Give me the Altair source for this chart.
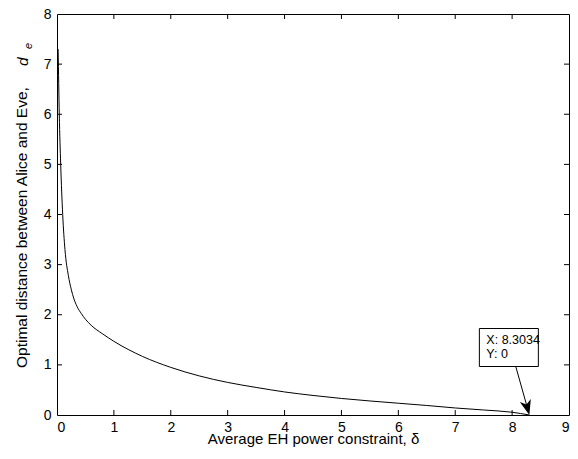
import altair as alt
import pandas as pd

# ---- data ----
delta = [0.02, 0.04, 0.065, 0.1, 0.14, 0.2, 0.25, 0.3, 0.35, 0.43, 0.5, 0.6, 0.8,
         1.0, 1.5, 2.0, 2.5, 3.0, 3.5, 4.0, 4.5, 5.0, 5.5, 6.0, 6.5, 7.0, 7.5,
         8.0, 8.3034]
d_e = [7.3, 6.0, 5.0, 4.0, 3.3, 2.78, 2.51, 2.31, 2.17, 2.02, 1.91, 1.79, 1.62,
       1.47, 1.17, 0.95, 0.78, 0.65, 0.55, 0.46, 0.39, 0.33, 0.28, 0.235, 0.19,
       0.14, 0.1, 0.055, 0.0]
x_ticks = [0, 1, 2, 3, 4, 5, 6, 7, 8, 9]
y_ticks = [0, 1, 2, 3, 4, 5, 6, 7, 8]
marker_x = [8.3034]
marker_y = [0.0]
marker_lines = ["X: 8.3034", "Y: 0"]

W, H = 512, 401
FONT = "Liberation Sans"

curve_df = pd.DataFrame({"delta": delta, "de": d_e})
xt_df = pd.DataFrame({"t": x_ticks[1:-1]})
yt_df = pd.DataFrame({"t": y_ticks[1:-1]})
mk_df = pd.DataFrame({"x": marker_x, "y": marker_y})

xs = alt.Scale(domain=[x_ticks[0], x_ticks[-1]], nice=False, zero=False)
ys = alt.Scale(domain=[y_ticks[0], y_ticks[-1]], nice=False, zero=False)

x_axis = alt.Axis(values=x_ticks, format="d", ticks=False, domain=False, grid=False,
                  labelFont=FONT, labelFontSize=14, labelColor="black",
                  labelPadding=5, title="Average EH power constraint, δ",
                  titleFont=FONT, titleFontSize=15, titleFontWeight="normal",
                  titleColor="black", titleBaseline="alphabetic", titleY=28)
y_axis = alt.Axis(values=y_ticks, format="d", ticks=False, domain=False, grid=False,
                  labelFont=FONT, labelFontSize=14, labelColor="black",
                  labelPadding=6, title=None)

curve = alt.Chart(curve_df).mark_line(color="black", strokeWidth=1,
                                      interpolate="monotone").encode(
    x=alt.X("delta:Q", scale=xs, axis=x_axis),
    y=alt.Y("de:Q", scale=ys, axis=y_axis),
)

# inward ticks on all four sides (MATLAB box style)
xt_bottom = alt.Chart(xt_df).mark_rule(color="black", strokeWidth=1).encode(
    x=alt.X("t:Q", scale=xs), y=alt.value(H), y2=alt.value(H - 5))
xt_top = alt.Chart(xt_df).mark_rule(color="black", strokeWidth=1).encode(
    x=alt.X("t:Q", scale=xs), y=alt.value(0), y2=alt.value(5))
yt_left = alt.Chart(yt_df).mark_rule(color="black", strokeWidth=1).encode(
    y=alt.Y("t:Q", scale=ys), x=alt.value(0), x2=alt.value(5))
yt_right = alt.Chart(yt_df).mark_rule(color="black", strokeWidth=1).encode(
    y=alt.Y("t:Q", scale=ys), x=alt.value(W), x2=alt.value(W - 5))

# data tip annotation
box = alt.Chart(mk_df).mark_rect(fill="white", stroke="black", strokeWidth=1,
                                 xOffset=-50, x2Offset=9,
                                 yOffset=-86.5, y2Offset=-48.5).encode(
    x=alt.X("x:Q", scale=xs), x2="x:Q",
    y=alt.Y("y:Q", scale=ys), y2="y:Q")
txt1 = alt.Chart(mk_df).mark_text(text=marker_lines[0], font=FONT, fontSize=12.5,
                                  align="left", baseline="middle",
                                  dx=-43, dy=-75.5, color="black").encode(
    x=alt.X("x:Q", scale=xs), y=alt.Y("y:Q", scale=ys))
txt2 = alt.Chart(mk_df).mark_text(text=marker_lines[1], font=FONT, fontSize=12.5,
                                  align="left", baseline="middle",
                                  dx=-43, dy=-61.5, color="black").encode(
    x=alt.X("x:Q", scale=xs), y=alt.Y("y:Q", scale=ys))
arrow_line = alt.Chart(mk_df).mark_rule(color="black", strokeWidth=1,
                                        xOffset=-13.6, yOffset=-48.5,
                                        x2Offset=-2.5, y2Offset=-9).encode(
    x=alt.X("x:Q", scale=xs), x2="x:Q",
    y=alt.Y("y:Q", scale=ys), y2="y:Q")
arrow_head = alt.Chart(mk_df).mark_point(
    shape="M0,0L-0.38,-1L0,-0.72L0.38,-1Z", size=900, angle=344.3,
    filled=True, color="black", opacity=1, strokeWidth=0).encode(
    x=alt.X("x:Q", scale=xs), y=alt.Y("y:Q", scale=ys))

# y-axis title with italic d and subscript e
yt_main = alt.Chart(mk_df).mark_text(
    text="Optimal distance between Alice and Eve,", font=FONT, fontSize=15.5,
    angle=270, align="left", baseline="alphabetic", color="black").encode(
    x=alt.value(-30), y=alt.value(354))
yt_d = alt.Chart(mk_df).mark_text(
    text="d", font=FONT, fontSize=15.5, fontStyle="italic",
    angle=270, align="left", baseline="alphabetic", color="black").encode(
    x=alt.value(-29), y=alt.value(52))
yt_e = alt.Chart(mk_df).mark_text(
    text="e", font=FONT, fontSize=11, fontStyle="italic",
    angle=270, align="left", baseline="alphabetic", color="black").encode(
    x=alt.value(-25), y=alt.value(35))

chart = alt.layer(
    curve, xt_bottom, xt_top, yt_left, yt_right,
    arrow_line, arrow_head, box, txt1, txt2,
    yt_main, yt_d, yt_e,
).properties(
    width=W, height=H,
    autosize=alt.AutoSizeParams(type="none"),
    padding={"left": 49, "top": 6, "right": 1, "bottom": 32},
    background="white",
).configure_view(stroke="black", strokeWidth=1)

chart.save("out.html", embed_options={"renderer": "svg", "actions": False})
